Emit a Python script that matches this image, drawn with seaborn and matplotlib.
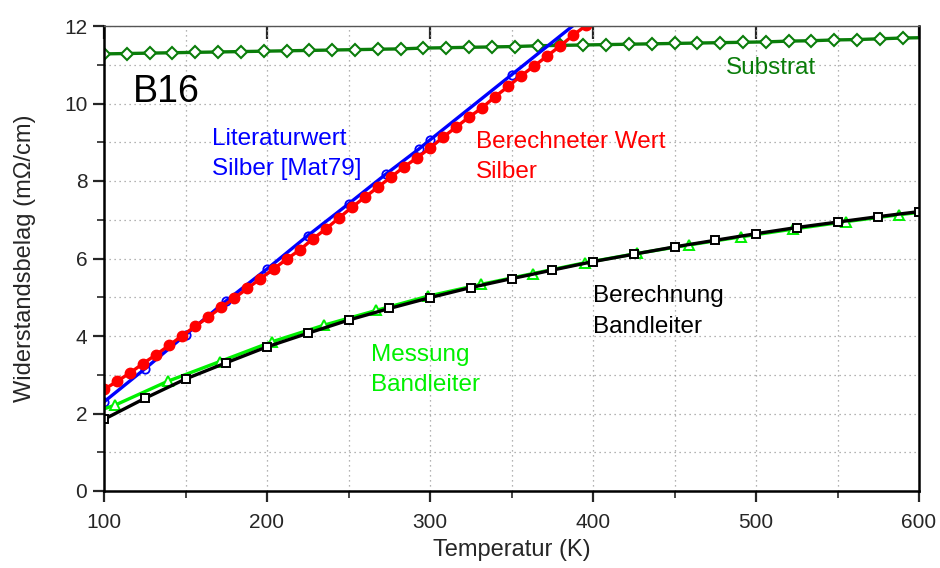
import matplotlib
matplotlib.use("Agg")
import matplotlib.pyplot as plt
from matplotlib.ticker import MultipleLocator, NullLocator
import seaborn as sns

# Substrat
t_sub = [100, 114, 128, 142, 156, 170, 184, 198, 212, 226, 240, 254, 268, 282,
         296, 310, 324, 338, 352, 366, 380, 394, 408, 422, 436, 450, 464, 478,
         492, 506, 520, 534, 548, 562, 576, 590, 604]
r_sub = [11.28, 11.29, 11.30, 11.31, 11.32, 11.33, 11.34, 11.35, 11.36, 11.37,
         11.38, 11.39, 11.40, 11.41, 11.43, 11.44, 11.45, 11.46, 11.47, 11.49,
         11.50, 11.51, 11.52, 11.53, 11.54, 11.55, 11.56, 11.57, 11.58, 11.59,
         11.61, 11.62, 11.64, 11.65, 11.67, 11.69, 11.70]

# Literaturwert Silber [Mat79]
t_lit = [100, 125, 150, 175, 200, 225, 250, 273, 293, 300, 350, 400]
r_lit = [2.30, 3.15, 4.03, 4.91, 5.73, 6.59, 7.41, 8.18, 8.82, 9.06, 10.74, 12.42]

# Berechneter Wert Silber
t_calc = [100, 108, 116, 124, 132, 140, 148, 156, 164, 172, 180, 188, 196,
          204, 212, 220, 228, 236, 244, 252, 260, 268, 276, 284, 292, 300,
          308, 316, 324, 332, 340, 348, 356, 364, 372, 380, 388, 396]
r_calc = [2.62, 2.83, 3.05, 3.29, 3.52, 3.76, 4.01, 4.25, 4.49, 4.74, 4.98,
          5.23, 5.48, 5.73, 5.98, 6.22, 6.50, 6.76, 7.04, 7.32, 7.58, 7.84,
          8.10, 8.36, 8.60, 8.85, 9.13, 9.39, 9.65, 9.89, 10.18, 10.44, 10.72,
          10.97, 11.23, 11.49, 11.77, 12.02]

# Messung Bandleiter (first and last points carry no marker)
t_mess = [100, 107, 139, 171, 203, 235, 267, 299, 331, 363, 395, 427, 459,
          491, 523, 555, 588, 600]
r_mess = [2.12, 2.22, 2.83, 3.34, 3.85, 4.28, 4.66, 5.03, 5.33, 5.61, 5.89,
          6.13, 6.35, 6.56, 6.76, 6.95, 7.13, 7.19]

# Berechnung Bandleiter
t_band = [100, 125, 150, 175, 200, 225, 250, 275, 300, 325, 350, 375, 400,
          425, 450, 475, 500, 525, 550, 575, 600]
r_band = [1.85, 2.39, 2.89, 3.31, 3.72, 4.07, 4.41, 4.71, 4.99, 5.25, 5.48,
          5.70, 5.92, 6.11, 6.30, 6.47, 6.64, 6.80, 6.94, 7.08, 7.21]

sns.set_style("white")
plt.rcParams['font.family'] = ['Liberation Sans', 'DejaVu Sans']

fig = plt.figure(figsize=(9.4, 5.68), dpi=100)
ax = fig.add_axes([104 / 940, 1 - 491 / 568, 815 / 940, 465 / 568])

sub_green = '#0a7d0a'
lime = '#00f000'
lw = 2.4

sns.lineplot(x=t_sub, y=r_sub, ax=ax, color=sub_green, linewidth=lw,
             marker='D', markersize=6.5, markerfacecolor='white',
             markeredgecolor=sub_green, markeredgewidth=1.5,
             estimator=None, sort=False)
sns.lineplot(x=t_lit, y=r_lit, ax=ax, color='#0000ff', linewidth=lw,
             marker='o', markersize=6, markerfacecolor='none',
             markeredgecolor='#0000ff', markeredgewidth=1.3,
             estimator=None, sort=False)
sns.lineplot(x=t_calc, y=r_calc, ax=ax, color='#ff0000', linewidth=lw,
             marker='o', markersize=7.5, markerfacecolor='#ff0000',
             markeredgecolor='#ff0000', markeredgewidth=1,
             estimator=None, sort=False)
sns.lineplot(x=t_mess, y=r_mess, ax=ax, color=lime, linewidth=lw,
             marker='^', markersize=7.5, markerfacecolor='white',
             markeredgecolor=lime, markeredgewidth=1.4,
             markevery=list(range(1, len(t_mess) - 1)),
             estimator=None, sort=False)
sns.lineplot(x=t_band, y=r_band, ax=ax, color='black', linewidth=lw,
             marker='s', markersize=6, markerfacecolor='white',
             markeredgecolor='black', markeredgewidth=1.4,
             estimator=None, sort=False)

ax.set_xlim(100, 600)
ax.set_ylim(0, 12)
ax.xaxis.set_major_locator(MultipleLocator(100))
ax.xaxis.set_minor_locator(MultipleLocator(50))
ax.yaxis.set_major_locator(MultipleLocator(2))
ax.yaxis.set_minor_locator(MultipleLocator(1))

ax.grid(which='both', color='#9a9a9a', linestyle=(0, (1, 3)), linewidth=0.9)
ax.set_axisbelow(True)

for side in ['left', 'bottom', 'right']:
    ax.spines[side].set_linewidth(1.8)
    ax.spines[side].set_color('black')
ax.spines['top'].set_linewidth(1.0)
ax.spines['top'].set_color('#555555')

ax.tick_params(which='major', direction='out', length=8, width=1.6,
               labelsize=15, pad=4, left=True, bottom=True)
ax.tick_params(which='minor', direction='out', length=5, width=1.2,
               left=True, bottom=True)
ax.tick_params(axis='x', pad=8)

top = ax.secondary_xaxis('top')
top.set_xticks([100, 200, 300, 400, 500, 600])
top.xaxis.set_minor_locator(NullLocator())
top.tick_params(direction='in', length=9, width=1.6, labeltop=False)
top.spines['top'].set_visible(False)

ax.set_xlabel('Temperatur (K)', fontsize=17, labelpad=5)
ax.set_ylabel('Widerstandsbelag (m\u03a9/cm)', fontsize=17, labelpad=20)

ax.text(118, 10.3, 'B16', fontsize=27, color='black', ha='left', va='center')
ax.text(166.5, 8.93, 'Literaturwert', fontsize=17.5, color='#0000ff',
        ha='left', va='baseline')
ax.text(166.5, 8.15, 'Silber [Mat79]', fontsize=17.5, color='#0000ff',
        ha='left', va='baseline')
ax.text(328, 8.85, 'Berechneter Wert', fontsize=17.5, color='#ff0000',
        ha='left', va='baseline')
ax.text(328, 8.09, 'Silber', fontsize=17.5, color='#ff0000',
        ha='left', va='baseline')
ax.text(481.5, 10.76, 'Substrat', fontsize=17.5, color=sub_green,
        ha='left', va='baseline')
ax.text(400, 4.87, 'Berechnung', fontsize=17.5, color='black',
        ha='left', va='baseline')
ax.text(400, 4.08, 'Bandleiter', fontsize=17.5, color='black',
        ha='left', va='baseline')
ax.text(264, 3.35, 'Messung', fontsize=17.5, color=lime,
        ha='left', va='baseline')
ax.text(264, 2.58, 'Bandleiter', fontsize=17.5, color=lime,
        ha='left', va='baseline')

fig.savefig('out.png', dpi=100)
